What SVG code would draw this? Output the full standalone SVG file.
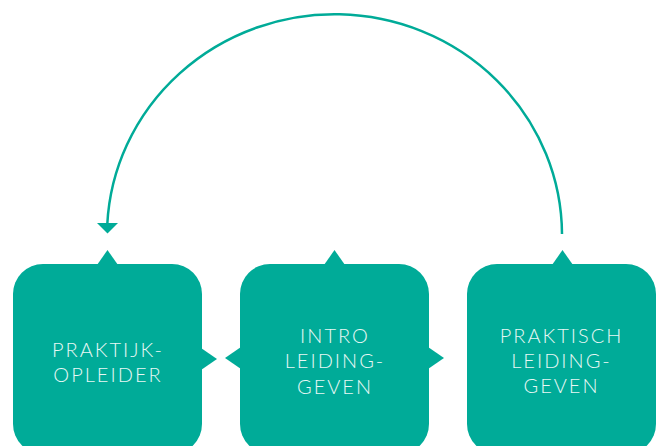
<svg xmlns="http://www.w3.org/2000/svg" width="656" height="446" viewBox="0 0 656 446">
<style>
.box{fill:#00AB98}
.lbl{font-family:Lato,"Open Sans","Liberation Sans",sans-serif;font-weight:300;font-size:20px;fill:#E8F8F5;text-anchor:middle;letter-spacing:2px}
.conn{fill:none;stroke:#00AB98;stroke-width:2.5}
.head{fill:#00AB98}
</style>
<rect width="656" height="446" fill="#fff"/>
<g id="connectors">
<path class="conn" d="M562,234 A227.5,221 0 0 0 107.3,224"/>
<polygon class="head" points="97,223 118,223 107.5,233.5"/>
</g>
<g id="node-praktijkopleider">
<rect class="box" x="13" y="264" width="189" height="190" rx="30"/>
<polygon class="box" points="97,265 107.5,250 118,265"/>
<polygon class="box" points="201,348 217,359 201,370"/>
<text class="lbl" x="108" y="357">PRAKTIJK-</text>
<text class="lbl" x="108" y="382">OPLEIDER</text>
</g>
<g id="node-intro">
<rect class="box" x="240" y="264" width="189" height="190" rx="30"/>
<polygon class="box" points="324,265 334.5,250 345,265"/>
<polygon class="box" points="241,347 225,358 241,369"/>
<polygon class="box" points="428,347 444,358 428,369"/>
<text class="lbl" x="335" y="343">INTRO</text>
<text class="lbl" x="335" y="368">LEIDING-</text>
<text class="lbl" x="335" y="394">GEVEN</text>
</g>
<g id="node-praktisch">
<rect class="box" x="467" y="264" width="189" height="190" rx="30"/>
<polygon class="box" points="552,265 562.5,250 573,265"/>
<text class="lbl" x="561.5" y="343">PRAKTISCH</text>
<text class="lbl" x="561.5" y="368">LEIDING-</text>
<text class="lbl" x="561.5" y="393">GEVEN</text>
</g>
</svg>
